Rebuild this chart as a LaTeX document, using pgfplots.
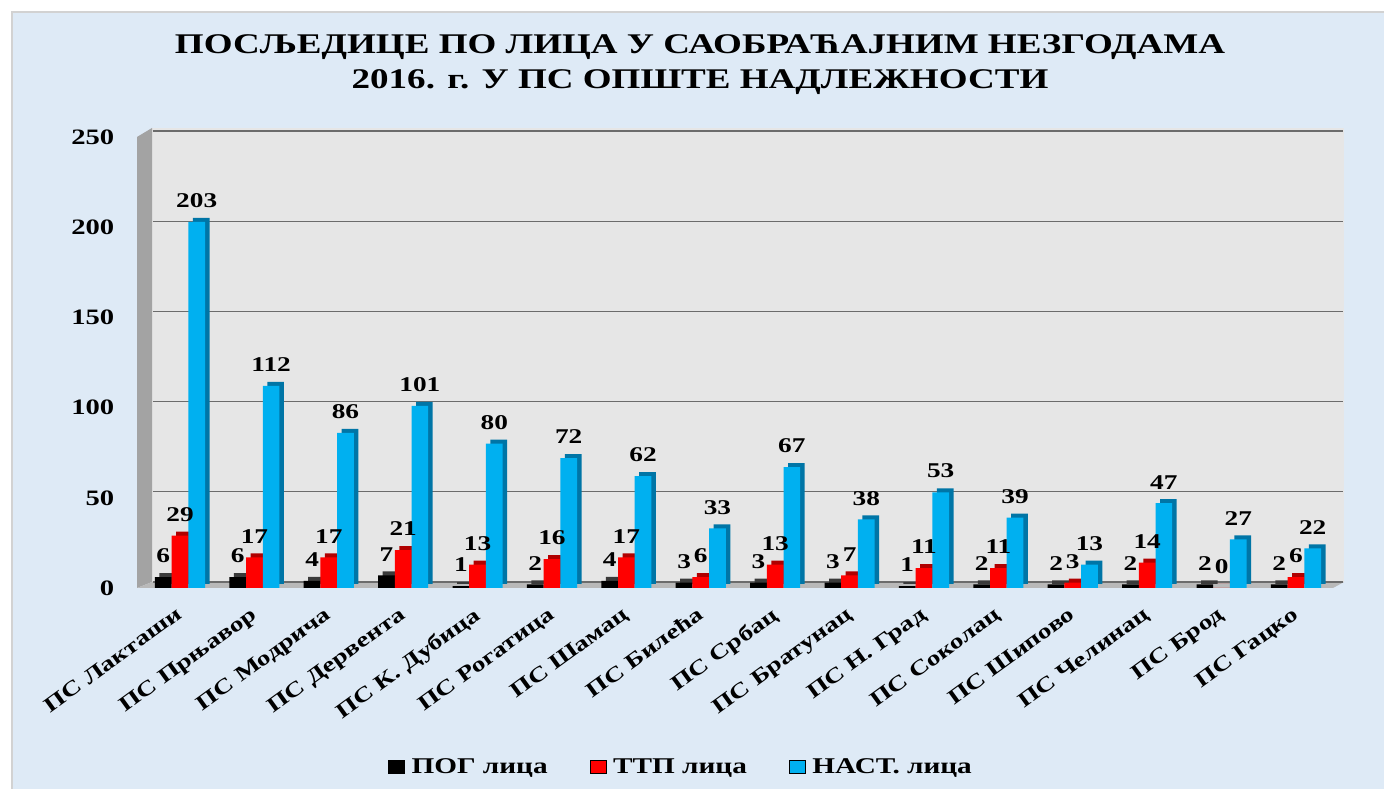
\documentclass[border=0pt]{standalone}
\usepackage{fontspec}
\setmainfont{Liberation Serif}[BoldFont={Liberation Serif Bold}, FakeStretch=1.3]
\usepackage{pgfplots}
\pgfplotsset{compat=1.18}
\definecolor{bgblue}{HTML}{DEEAF6}
\definecolor{wallc}{HTML}{E6E6E6}
\definecolor{sidewall}{HTML}{A3A3A3}
\definecolor{cblue}{HTML}{00B0F0}
\definecolor{cbluedark}{HTML}{0075A6}
\definecolor{cred}{HTML}{FF0000}
\definecolor{creddark}{HTML}{B00000}
\definecolor{cblackdark}{HTML}{3A3A3A}
\begin{document}
\begin{tikzpicture}[x=1pt,y=1pt]
\path[use as bounding box] (0,0) rectangle (1384,789);
\fill[white] (0,0) rectangle (1384,789);
\fill[bgblue, draw=gray!35, line width=1.5pt] (12,-5) rectangle (1392,777);
% back wall, left wall, floor
\fill[wallc] (152,207) rectangle (1344,661);
\fill[sidewall] (137,201) -- (152,207) -- (152,661) -- (137,652) -- cycle;
\fill[gray!55] (137,201) -- (152,207) -- (1344,207) -- (1333,201) -- cycle;
\node[font=\bfseries\fontsize{28.5}{35}\selectfont, align=center] at (700,724.5)
  {ПОСЉЕДИЦЕ ПО ЛИЦА У САОБРАЋАЈНИМ НЕЗГОДАМА\\2016. г. У ПС ОПШТЕ НАДЛЕЖНОСТИ};
\begin{axis}[
  at={(142.8pt,201pt)}, anchor=south west,
  scale only axis, width=1190.4pt, height=451pt,
  xmin=-0.5, xmax=15.5, ymin=0, ymax=250,
  ytick={0,50,...,250},
  xtick={0,...,15},
  xticklabels={ПС Лакташи,ПС Прњавор,ПС Модрича,ПС Дервента,ПС К. Дубица,ПС Рогатица,ПС Шамац,ПС Билећа,ПС Србац,ПС Братунац,ПС Н. Град,ПС Соколац,ПС Шипово,ПС Челинац,ПС Брод,ПС Гацко},
  axis line style={draw=none},
  major tick length=0pt,
  ymajorgrids,
  major grid style={draw=gray!85!black, line width=1.2pt, xshift=10pt, yshift=6pt},
  /pgf/number format/assume math mode=true,
  yticklabel style={font=\bfseries\fontsize{22}{22}\selectfont, xshift=-25pt},
  xticklabel style={rotate=36, anchor=north east, font=\bfseries\fontsize{21}{21}\selectfont, yshift=-8pt, xshift=-11pt},
  ybar, bar width=16.7pt, clip=false,
  every node near coord/.append style={font=\bfseries\fontsize{21}{21}\selectfont, black, inner sep=3pt, yshift=11pt},
  legend image code/.code={\fill[#1] (0pt,-6.5pt) rectangle (16pt,6.5pt);},
  legend style={at={(0.4513,-0.396)}, anchor=center, draw=none, fill=none,
    legend columns=3, font=\bfseries\fontsize{22.5}{22.5}\selectfont,
    nodes={inner sep=0pt},
    /tikz/every even column/.append style={column sep=42pt}},
]
% black series
\addplot[fill=cblackdark, draw=none, bar shift=-12.2pt, yshift=4pt, forget plot] coordinates
 {(0,6) (1,6) (2,4) (3,7) (4,1) (5,2) (6,4) (7,3) (8,3) (9,3) (10,1) (11,2) (12,2) (13,2) (14,2) (15,2)};
\addplot[fill=black, draw=none, bar shift=-16.7pt, nodes near coords, forget plot] coordinates
 {(0,6) (1,6) (2,4) (3,7) (4,1) (5,2) (6,4) (7,3) (8,3) (9,3) (10,1) (11,2) (12,2) (13,2) (14,2) (15,2)};
% red series
\addplot[fill=creddark, draw=none, bar shift=4.5pt, yshift=4pt, forget plot] coordinates
 {(0,29) (1,17) (2,17) (3,21) (4,13) (5,16) (6,17) (7,6) (8,13) (9,7) (10,11) (11,11) (12,3) (13,14) (14,0) (15,6)};
\addplot[fill=cred, draw=none, bar shift=0pt, nodes near coords, forget plot] coordinates
 {(0,29) (1,17) (2,17) (3,21) (4,13) (5,16) (6,17) (7,6) (8,13) (9,7) (10,11) (11,11) (12,3) (13,14) (14,0) (15,6)};
% blue series
\addplot[fill=cbluedark, draw=none, bar shift=21.2pt, yshift=4pt, forget plot] coordinates
 {(0,203) (1,112) (2,86) (3,101) (4,80) (5,72) (6,62) (7,33) (8,67) (9,38) (10,53) (11,39) (12,13) (13,47) (14,27) (15,22)};
\addplot[fill=cblue, draw=none, bar shift=16.7pt, nodes near coords, forget plot] coordinates
 {(0,203) (1,112) (2,86) (3,101) (4,80) (5,72) (6,62) (7,33) (8,67) (9,38) (10,53) (11,39) (12,13) (13,47) (14,27) (15,22)};
\addlegendimage{fill=black}
\addlegendentry{\hspace*{7pt}ПОГ лица}
\addlegendimage{fill=cred}
\addlegendentry{\hspace*{7pt}ТТП лица}
\addlegendimage{fill=cblue}
\addlegendentry{\hspace*{7pt}НАСТ. лица}
\end{axis}
\end{tikzpicture}
\end{document}
